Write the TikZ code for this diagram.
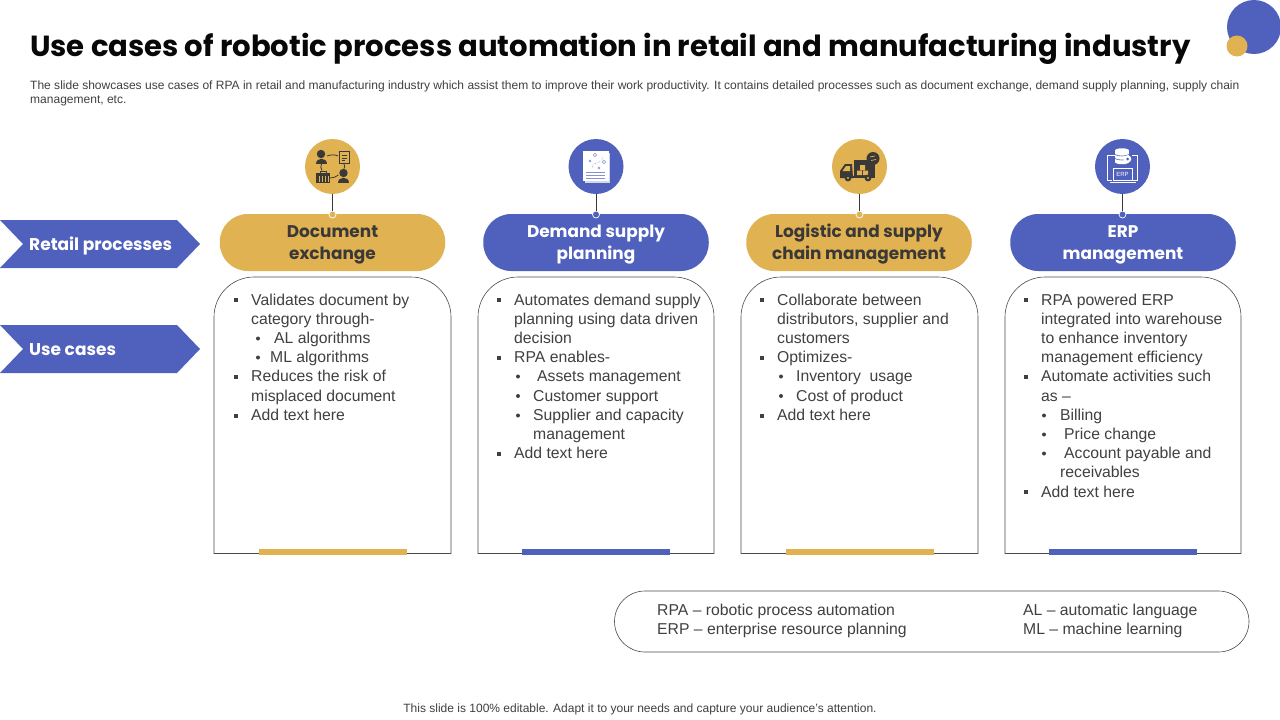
\documentclass[tikz,border=0pt]{standalone}
\usepackage{fontspec}
\setmainfont{Liberation Sans}
\newfontfamily\hd{Poppins}
\definecolor{gold}{HTML}{E0B252}
\definecolor{blu}{HTML}{5060BD}
\definecolor{ink}{HTML}{4A4A4A}
\definecolor{bodyc}{HTML}{404040}
\definecolor{dark}{HTML}{3B3838}
\newcommand{\bodyfont}{\fontsize{15.75}{19.2}\selectfont}
\newcommand{\lin}[3]{\node[txtline] at (#1,#2) {#3};}
\newcommand{\sqb}[2]{\fill[bodyc] (#1-2,#2-2) rectangle (#1+2,#2+2);}
\newcommand{\rob}[2]{\fill[bodyc] (#1,#2) circle (2);}
\tikzset{
  txtline/.style={anchor=base west,inner sep=0pt,text=bodyc,font=\bodyfont},
  smalltxt/.style={anchor=base west,inner sep=0pt,text=bodyc,font=\fontsize{12.02}{14.4}\selectfont},
  pill/.style={rounded corners=28pt,minimum width=225.5pt,minimum height=57pt,inner sep=0pt},
  goldpill/.style={pill,fill=gold},
  blupill/.style={pill,fill=blu},
  pilltxt/.style={inner sep=0pt,align=center,font=\hd\bfseries\fontsize{16.9}{22}\selectfont},
  disc/.style={circle,minimum size=55pt,inner sep=0pt},
  dot/.style={circle,minimum size=7pt,inner sep=0pt,draw=white,line width=0.7pt},
  stem/.style={draw=dark,line width=1pt},
  card/.style={draw=ink,line width=0.6pt},
  chev/.style={fill=blu},
  chevtxt/.style={anchor=base west,inner sep=0pt,text=white,font=\hd\bfseries\fontsize{17}{22}\selectfont},
}
\begin{document}
\begin{tikzpicture}[x=1pt,y=-1pt]
\useasboundingbox (0,0) rectangle (1280,720);
\fill[white] (0,0) rectangle (1280,720);
% corner
\fill[blu] (1254,27) circle (27);
\fill[gold] (1237,46) circle (10.5);
% title
\node[anchor=base west,inner sep=0pt,text=black!85!dark,font=\hd\bfseries\fontsize{29.1}{34}\selectfont] (title) at (30,56.5) {Use cases of robotic process automation in retail and manufacturing industry};
\node[smalltxt] (sub1) at (30,89) {The slide showcases use cases of RPA in retail and manufacturing industry which assist them to improve their work productivity.  It contains detailed processes such as document exchange, demand supply planning, supply chain};
\node[smalltxt] (sub2) at (30,103) {management, etc.};
% chevrons
\fill[chev] (0,220) -- (177,220) -- (200,244) -- (177,268) -- (0,268) -- (23,244) -- cycle;
\fill[chev] (0,325) -- (177,325) -- (200,349) -- (177,373) -- (0,373) -- (23,349) -- cycle;
\node[chevtxt] (lab1) at (29,250) {Retail processes};
\node[chevtxt] (lab2) at (29,355) {Use cases};
% cards
\foreach \xa/\xb/\c in {214/451/gold,478/714/blu,741/978/gold,1005/1241/blu}{
  \draw[card] (\xa,553.5) -- (\xa,317) arc[start angle=180,end angle=270,radius=40] -- (\xb-40,277) arc[start angle=270,end angle=360,radius=40] -- (\xb,553.5) -- cycle;
  \fill[\c] ({(\xa+\xb)/2-74},549) rectangle ({(\xa+\xb)/2+74},554.5);
}
% headers
\node[goldpill] (p1) at (332.5,242.5) {};
\node[blupill] (p2) at (596,242.5) {};
\node[goldpill] (p3) at (859,242.5) {};
\node[blupill] (p4) at (1123,242.5) {};
\node[pilltxt,text=dark] (t1) at (332.5,244.5) {Document\\exchange};
\node[pilltxt,text=white] (t2) at (596,244.5) {Demand supply\\planning};
\node[pilltxt,text=dark] (t3) at (859,244.5) {Logistic and supply\\chain management};
\node[pilltxt,text=white] (t4) at (1123,244.5) {ERP\\management};
% discs
\node[disc,fill=gold] (c1) at (332.5,166.5) {};
\node[disc,fill=blu] (c2) at (596,166.5) {};
\node[disc,fill=gold] (c3) at (859.5,166.5) {};
\node[disc,fill=blu] (c4) at (1122.5,166.5) {};
\node[dot,fill=gold] (d1) at (332.5,214.5) {};
\node[dot,fill=blu] (d2) at (596,214.5) {};
\node[dot,fill=gold] (d3) at (859.5,214.5) {};
\node[dot,fill=blu] (d4) at (1122.5,214.5) {};
\foreach \i in {1,2,3,4}{ \draw[stem] (c\i) -- (d\i); }
% icon 1
\fill[dark] (321,154) circle (4.2);
\fill[dark] (315.5,163.5) .. controls (315.5,156.5) and (326.5,156.5) .. (326.5,163.5) -- cycle;
\fill[dark] (343.5,173) circle (4.2);
\fill[dark] (338,183) .. controls (338,176) and (349,176) .. (349,183) -- cycle;
\draw[dark,line width=0.8pt] (339,151.5) rectangle (349,163.5);
\draw[dark,line width=0.6pt] (341.5,155.5) -- (346.5,155.5) (341.5,158) -- (346.5,158) (341.5,160.5) -- (345,160.5);
\fill[dark] (316,173) rectangle (330,183);
\draw[dark,line width=0.8pt] (320,173) -- (320,171) -- (326,171) -- (326,173);
\draw[gold,line width=0.6pt] (319,176) -- (319,182) (322,176) -- (322,182) (325,176) -- (325,182) (328,176) -- (328,182);
\draw[dark,line width=0.8pt] (327,156) .. controls (331,154.5) and (335,154.5) .. (338,156);
\draw[dark,line width=0.8pt] (321.5,164) .. controls (320.5,166) and (320.5,168.5) .. (322,170.5);
\draw[dark,line width=0.8pt] (344,164) .. controls (345,165.5) and (345,167.5) .. (344,168.5);
\draw[dark,line width=0.8pt] (330,178) .. controls (333,178) and (336,177) .. (338.5,175);
% icon 2
\fill[blu!25!white] (584.5,153) rectangle (610,182.5);
\fill[white] (582.5,151) rectangle (608.5,181);
\draw[blu!70,line width=0.5pt] (586,172) -- (605,172) (586,175) -- (605,175) (586,178) -- (605,178);
\draw[blu!70,line width=0.5pt,densely dotted] (592,168) .. controls (592,160) and (603,166) .. (603,156);
\draw[blu!70,line width=0.5pt] (595,155) circle (1.7) (604,162) circle (1.7) (590,161) circle (1) (599,168) circle (1);
% icon 3
\fill[dark] (853.5,160) rectangle (875,176);
\fill[dark] (852,164) -- (845,164) -- (840,171) -- (840,178) -- (853,178) -- cycle;
\fill[gold] (850,166) -- (846,166) -- (842.5,171) -- (850,171) -- cycle;
\fill[dark] (840,175.5) rectangle (875,178);
\fill[gold] (860,165) rectangle (865,170) (857,170.5) rectangle (862,175) (863,170.5) rectangle (868,175);
\fill[dark] (848,178) circle (3.4) (868,178) circle (3.4);
\fill[gold] (848,178) circle (1.2) (868,178) circle (1.2);
\fill[dark] (873,158.5) circle (6.5);
\draw[gold,line width=0.7pt] (870,157) -- (875,156) (871,160.5) -- (876,159.5);
% icon 4
\begin{scope}[line width=0.6pt]
 \draw[white] (1113,168.5) rectangle (1132.5,180);
 \draw[white] (1110,182.5) -- (1136,182.5);
 \fill[white] (1115,150.5) rectangle (1129,162);
 \fill[white] (1122,150.5) ellipse (7 and 2.2);
 \fill[white] (1122,162) ellipse (7 and 2.2);
 \draw[blu] (1115,154.5) .. controls (1118,156.5) and (1126,156.5) .. (1129,154.5);
 \draw[blu] (1115,158.5) .. controls (1118,160.5) and (1126,160.5) .. (1129,158.5);
 \fill[white] (1127.5,159) circle (3.8);
 \fill[blu] (1127.5,159) circle (1.5);
 \draw[white] (1115,155) -- (1107.5,155) -- (1107.5,180) -- (1112,180);
 \draw[white] (1132,155) -- (1137,155) -- (1137,180) -- (1133,180);
\end{scope}
\node[inner sep=0pt,text=white,font=\fontsize{6}{7}\selectfont] (erpicon) at (1122.5,174.5) {ERP};
% card 1
\sqb{236}{300}\lin{251}{305.5}{Validates document by}
\lin{251}{324.5}{category through-}
\rob{258}{338.5}\lin{274}{343.5}{AL algorithms}
\rob{258}{357.5}\lin{270}{362.5}{ML algorithms}
\sqb{236}{376.5}\lin{251}{381.5}{Reduces the risk of}
\lin{251}{401.5}{misplaced document}
\sqb{236}{415.5}\lin{251}{420.5}{Add text here}
% card 2
\sqb{499}{300}\lin{514}{305.5}{Automates demand supply}
\lin{514}{324.5}{planning using data driven}
\lin{514}{343.5}{decision}
\sqb{499}{357.5}\lin{514}{362.5}{RPA enables-}
\rob{518}{376.5}\lin{537}{381.5}{Assets management}
\rob{518}{396}\lin{533}{401.5}{Customer support}
\rob{518}{415.5}\lin{533}{420.5}{Supplier and capacity}
\lin{533}{439.5}{management}
\sqb{499}{453.5}\lin{514}{458.5}{Add text here}
% card 3
\sqb{762}{300}\lin{777}{305.5}{Collaborate between}
\lin{777}{324.5}{distributors, supplier and}
\lin{777}{343.5}{customers}
\sqb{762}{357.5}\lin{777}{362.5}{Optimizes-}
\rob{781}{376.5}\lin{796}{381.5}{Inventory\ \ usage}
\rob{781}{396}\lin{796}{401.5}{Cost of product}
\sqb{762}{415.5}\lin{777}{420.5}{Add text here}
% card 4
\sqb{1026}{300}\lin{1041}{305.5}{RPA powered ERP}
\lin{1041}{324.5}{integrated into warehouse}
\lin{1041}{343.5}{to enhance inventory}
\lin{1041}{362.5}{management efficiency}
\sqb{1026}{376.5}\lin{1041}{381.5}{Automate activities such}
\lin{1041}{401.5}{as –}
\rob{1044}{415.5}\lin{1060}{420.5}{Billing}
\rob{1044}{434.5}\lin{1064}{439.5}{Price change}
\rob{1044}{453.5}\lin{1064}{458.5}{Account payable and}
\lin{1060}{477.5}{receivables}
\sqb{1026}{492}\lin{1041}{497.5}{Add text here}
% legend
\draw[card] (614.5,621.5) arc[start angle=180,end angle=270,radius=30.5] -- (1218.5,591) arc[start angle=270,end angle=450,radius=30.5] -- (645,652) arc[start angle=90,end angle=180,radius=30.5] -- cycle;
\lin{657}{615.5}{RPA – robotic process automation}
\lin{657}{634.5}{ERP – enterprise resource planning}
\lin{1023}{615.5}{AL – automatic language}
\lin{1023}{634.5}{ML – machine learning}
% footer
\node[anchor=base,inner sep=0pt,text=bodyc,font=\fontsize{12}{14.4}\selectfont] (foot) at (640,712.5) {This slide is 100\% editable. Adapt it to your needs and capture your audience's attention.};
\end{tikzpicture}
\end{document}
